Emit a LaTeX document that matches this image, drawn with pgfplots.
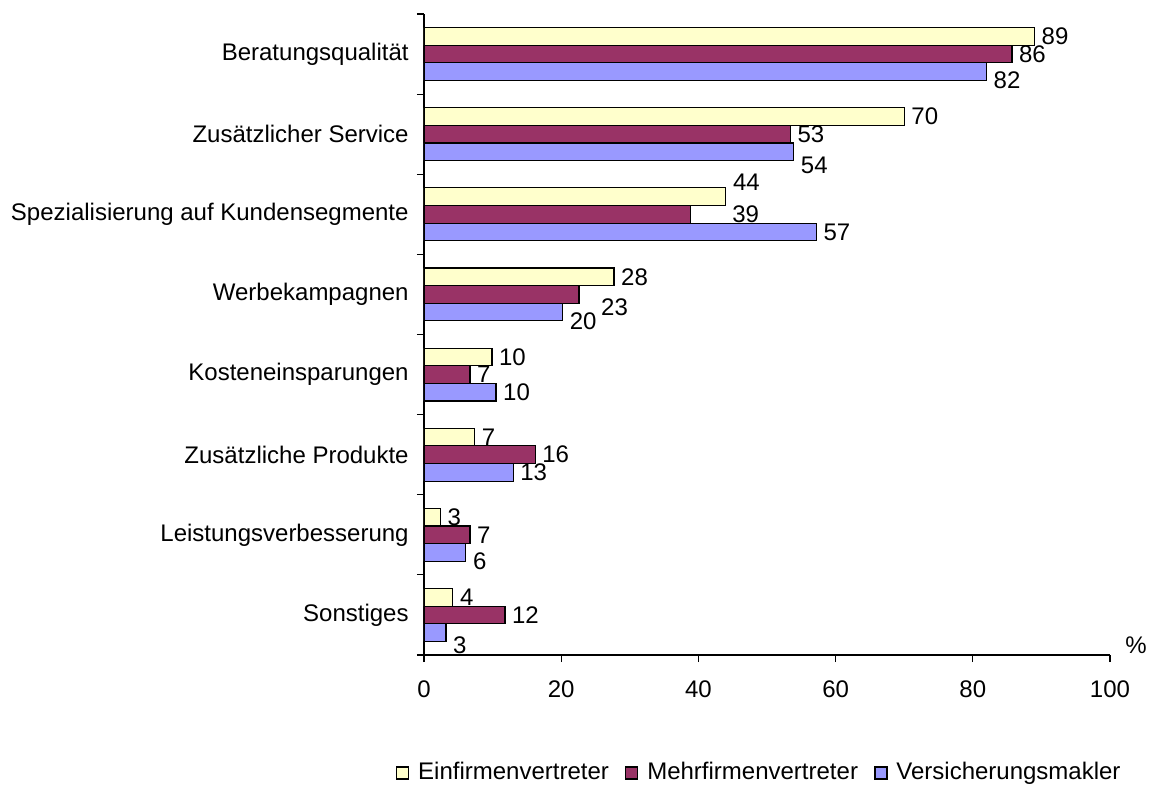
\documentclass[12pt,border=0pt]{standalone}
\usepackage{fontspec}
\setmainfont{Liberation Sans}
\usepackage{pgfplots}
\usepackage{pgfplotstable}
\pgfplotsset{compat=1.18}

\definecolor{ein}{HTML}{FFFFCC}
\definecolor{mehr}{HTML}{993366}
\definecolor{vers}{HTML}{9999FF}

% c = category, v = bar length, lab = printed value, dx/dy = label nudge (pt)
\pgfplotstableread{
c v    lab dx   dy
0 89   89  0    0
1 70   70  0    0
2 44   44  0    7
3 27.7 28  0    0
4 9.9  10  0    0
5 7.4  7   0    0
6 2.4  3   0    0
7 4.2  4   0    0
}\einfirmen

\pgfplotstableread{
c v    lab dx   dy
0 85.7 86  0    0
1 53.4 53  0    0
2 38.8 39  17.5 0
3 22.6 23  7.5  -6.5
4 6.7  7   0    0
5 16.2 16  0    0
6 6.7  7   0    0
7 11.8 12  0    0
}\mehrfirmen

\pgfplotstableread{
c v    lab dx   dy
0 82   82  0    -4.5
1 53.9 54  0    -7
2 57.2 57  0    0
3 20.2 20  0    -4.5
4 10.5 10  0    0
5 13   13  0    0
6 6.1  6   0    -4.5
7 3.2  3   0    -6.5
}\makler

\begin{document}
\begin{tikzpicture}
\begin{axis}[
    name=ax,
    scale only axis,
    width=343pt, height=320.5pt,
    xbar, bar width=0.22,
    xmin=0, xmax=100,
    ymin=-0.5, ymax=7.5, y dir=reverse,
    enlargelimits=false,
    axis x line*=bottom, axis y line*=left,
    axis line style={-, black, line width=0.6pt},
    tick align=outside, major tick length=3.5pt,
    tick style={black, line width=0.6pt},
    xtick={0,20,...,100},
    ytick={-0.5,0.5,...,7.5}, yticklabels={},
    extra y ticks={0,...,7},
    extra y tick labels={Beratungsqualität, Zusätzlicher Service,
        Spezialisierung auf Kundensegmente, Werbekampagnen,
        Kosteneinsparungen, Zusätzliche Produkte,
        Leistungsverbesserung, Sonstiges},
    extra y tick style={tick style={draw=none}},
    /pgf/number format/assume math mode=true,
    xticklabel style={yshift=-5pt},
    xlabel={\%},
    xlabel style={at={(axis description cs:1,0)}, anchor=base west,
        inner sep=0pt, xshift=7.5pt, yshift=1pt},
    nodes near coords,
    point meta=explicit symbolic,
    visualization depends on={\thisrow{dx} \as \ldx},
    visualization depends on={\thisrow{dy} \as \ldy},
    nodes near coords style={anchor=west, inner sep=0pt, black,
        xshift={3.3pt+\ldx*1pt}, yshift={\ldy*1pt}},
    legend style={at={(axis description cs:0.49,-0.184)}, anchor=center,
        draw=none, legend columns=3, inner sep=0pt,
        /tikz/every even column/.append style={column sep=6pt}},
    legend image code/.code={
        \draw[#1, line width=0.8pt] (0pt,-3pt) rectangle (6pt,3pt);
        \path (8.5pt,0pt);},
]
\addplot[fill=ein, draw=black, line width=0.6pt, bar shift=-0.22]
    table[x=v, y=c, meta=lab] {\einfirmen};
\addplot[fill=mehr, draw=black, line width=0.6pt, bar shift=0]
    table[x=v, y=c, meta=lab] {\mehrfirmen};
\addplot[fill=vers, draw=black, line width=0.6pt, bar shift=0.22]
    table[x=v, y=c, meta=lab] {\makler};
\legend{Einfirmenvertreter, Mehrfirmenvertreter, Versicherungsmakler}
\end{axis}
\path ([xshift=-212pt,yshift=-64pt]ax.south west)
    rectangle ([xshift=362.5pt,yshift=327.5pt]ax.south west);
\end{tikzpicture}
\end{document}
